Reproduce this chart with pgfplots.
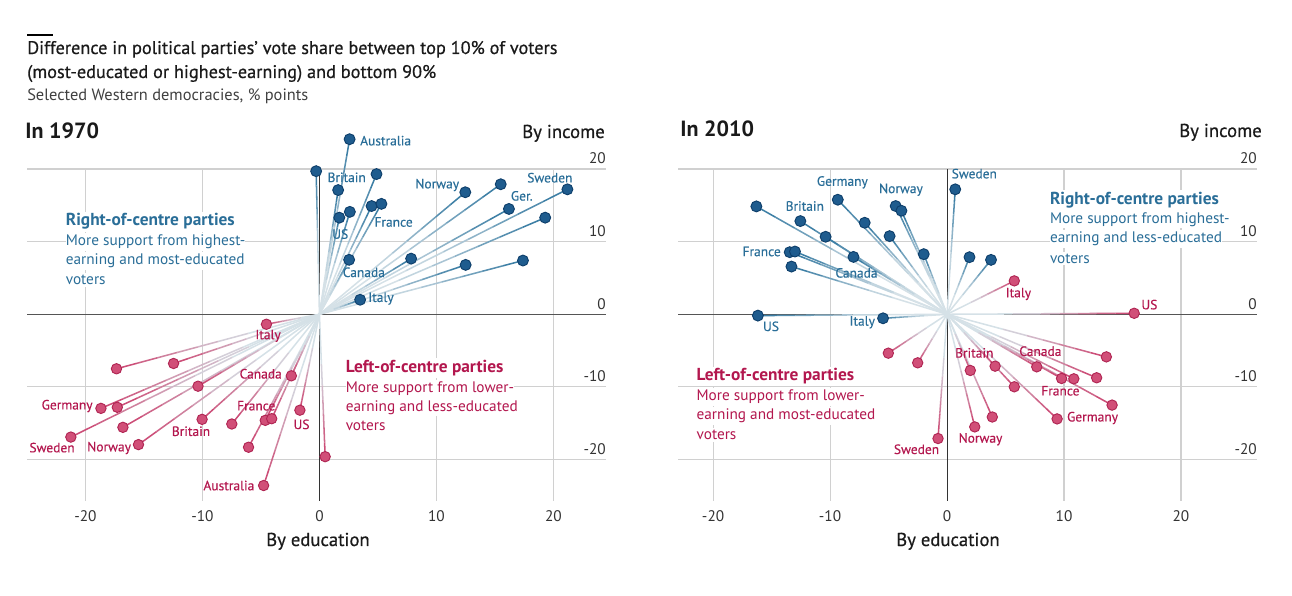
\documentclass[border=0pt]{standalone}
\usepackage{pgfplots}
\pgfplotsset{compat=1.18}
\usepackage{pgfplotstable}
\usepackage{fontspec}
\setmainfont{PT Sans}
\newfontfamily\medfont{PT Sans}[FakeBold=0.6]
\newfontfamily\semifont{PT Sans}[FakeBold=0.3]

\definecolor{bl}{HTML}{1F5C8E}
\definecolor{blray}{HTML}{377BA2}
\definecolor{bledge}{HTML}{0E3F6B}
\definecolor{bltext}{HTML}{2A6E98}
\definecolor{rd}{HTML}{D14F78}
\definecolor{rdray}{HTML}{CC4873}
\definecolor{rdedge}{HTML}{B02553}
\definecolor{rdtext}{HTML}{B3174E}
\definecolor{rayl}{HTML}{D5E1E7}
\definecolor{gridc}{HTML}{D0D0D0}
\definecolor{zeroc}{HTML}{555555}
\definecolor{ticktext}{HTML}{333333}
\definecolor{titletext}{HTML}{1A1A1A}

\pgfplotstableread{
x y
2.58 24.1
-0.28 19.7
4.88 19.3
1.6 17.1
12.47 16.8
15.5 17.9
16.2 14.5
21.2 17.2
19.3 13.3
4.46 14.9
5.3 15.2
2.6 14.1
1.7 13.3
2.54 7.5
7.84 7.66
12.5 6.8
17.4 7.4
3.48 2.0
}\blA

\pgfplotstableread{
x y
-4.53 -1.37
-17.35 -7.5
-12.47 -6.77
-2.4 -8.47
-10.38 -9.9
-18.68 -12.95
-17.28 -12.8
-16.8 -15.56
-21.25 -16.9
-15.47 -17.94
-10.03 -14.46
-7.49 -15.1
-4.63 -14.6
-4.08 -14.37
-1.67 -13.2
-6.06 -18.3
0.49 -19.6
-4.77 -23.57
}\rdA

\pgfplotstableread{
x y
0.7 17.2
-16.3 14.85
-12.54 12.83
-9.34 15.77
-4.39 14.9
-3.9 14.25
-7.04 12.6
-10.38 10.67
-4.91 10.76
-13.45 8.55
-13.0 8.64
-8.0 7.9
-1.99 8.28
-13.3 6.57
1.92 7.86
3.76 7.49
-16.17 -0.18
-5.47 -0.55
}\blB

\pgfplotstableread{
x y
5.75 4.6
16.0 0.14
-5.02 -5.35
-2.51 -6.68
1.99 -7.73
4.11 -7.14
5.75 -9.98
7.67 -7.23
9.79 -8.83
10.84 -8.88
12.79 -8.74
13.62 -5.86
14.11 -12.5
9.41 -14.4
3.87 -14.14
2.37 -15.5
-0.77 -17.1
}\rdB

% one piece of every ray: from f0 to f1 of the way to the point
\newcommand\seg[5]{%
\addplot[forget plot, draw=#5!#3!rayl, line width=1.15pt,
  quiver={u={(#2-#1)*\thisrow{x}}, v={(#2-#1)*\thisrow{y}}}]
  table[x expr={#1*\thisrow{x}}, y expr={#1*\thisrow{y}}] {#4};}
\newcommand\allrays[2]{%
\seg{0}{0.35}{0}{#1}{blray}\seg{0}{0.35}{0}{#2}{rdray}%
\seg{0.35}{0.5}{12}{#1}{blray}\seg{0.35}{0.5}{12}{#2}{rdray}%
\seg{0.5}{0.6}{28}{#1}{blray}\seg{0.5}{0.6}{28}{#2}{rdray}%
\seg{0.6}{0.7}{45}{#1}{blray}\seg{0.6}{0.7}{45}{#2}{rdray}%
\seg{0.7}{0.8}{63}{#1}{blray}\seg{0.7}{0.8}{63}{#2}{rdray}%
\seg{0.8}{0.9}{81}{#1}{blray}\seg{0.8}{0.9}{81}{#2}{rdray}%
\seg{0.9}{1}{96}{#1}{blray}\seg{0.9}{1}{96}{#2}{rdray}%
\addplot[only marks, mark=*, mark size=4.1pt, mark options={fill=bl, draw=bledge, line width=0.7pt}] table {#1};
\addplot[only marks, mark=*, mark size=3.9pt, mark options={fill=rd, draw=rdedge, line width=0.7pt}] table {#2};}

\newcommand\gridlines[2]{% xmin xmax
\pgfplotsinvokeforeach{-20,-10,10,20}{\draw[gridc, line width=0.8pt] (axis cs:#1,##1) -- (axis cs:#2,##1);
 \draw[gridc, line width=0.8pt] (axis cs:##1,-25.7) -- (axis cs:##1,20);}
\draw[zeroc, line width=1.1pt] (axis cs:#1,0) -- (axis cs:#2,0);
\draw[black!80, line width=0.6pt] (axis cs:0,-25.7) -- (axis cs:0,20);}

\tikzset{
 ctyB/.style={text=bltext, font=\semifont\fontsize{10.1}{11}\selectfont, inner sep=1pt},
 ctyR/.style={text=rdtext, font=\semifont\fontsize{10.1}{11}\selectfont, inner sep=1pt},
 annB/.style={text=bltext, font=\fontsize{11.45}{13}\selectfont, anchor=west, fill=white, inner xsep=0pt, inner ysep=1.5pt},
 annR/.style={text=rdtext, font=\fontsize{11.45}{13}\selectfont, anchor=west, fill=white, inner xsep=0pt, inner ysep=1.5pt},
 annBt/.style={annB, font=\fontsize{13}{14}\selectfont\bfseries},
 annRt/.style={annR, font=\fontsize{13}{14}\selectfont\bfseries},
}

\pgfplotsset{panel/.style={
  scale only axis, width=434.25pt, height=249pt,
  ymin=-25.7, ymax=20, clip=false, anchor=south west,
  axis line style={draw=none}, tick style={draw=none},
  xtick={-20,-10,0,10,20}, ytick={-20,-10,0,10,20},
  yticklabel pos=right,
  /pgf/number format/assume math mode=true,
  ticklabel style={font=\fontsize{11.5}{13}\selectfont, text=ticktext},
  yticklabel style={anchor=south east, inner sep=0pt, yshift=3.5pt},
  xticklabel style={yshift=-4pt},
}}

\begin{document}
\begin{tikzpicture}
\path[use as bounding box] (0,0) rectangle (969pt,447pt);

\begin{scope}[x=0.75pt, y=-0.75pt, yshift=447pt]
\draw[black, line width=0.9pt] (27,35) -- (53,35);
\node[anchor=base west, inner sep=0pt, text=titletext, font=\medfont\fontsize{13.7}{15}\selectfont] at (27,54) {Difference in political parties’ vote share between top 10\% of voters};
\node[anchor=base west, inner sep=0pt, text=titletext, font=\medfont\fontsize{13.7}{15}\selectfont] at (27,78) {(most-educated or highest-earning) and bottom 90\%};
\node[anchor=base west, inner sep=0pt, text=black!75, font=\fontsize{12.3}{13}\selectfont] at (27,101) {Selected Western democracies, \% points};
\node[anchor=base west, inner sep=0pt, text=titletext, font=\fontsize{16.5}{18}\selectfont\bfseries] at (25,139) {In 1970};
\node[anchor=base east, inner sep=0pt, text=titletext, font=\medfont\fontsize{14}{15}\selectfont] at (605,138) {By income};
\node[anchor=base, inner sep=0pt, text=titletext, font=\medfont\fontsize{14}{15}\selectfont] at (318,546) {By education};
\node[anchor=base west, inner sep=0pt, text=titletext, font=\fontsize{16.5}{18}\selectfont\bfseries] at (680,137) {In 2010};
\node[anchor=base east, inner sep=0pt, text=titletext, font=\medfont\fontsize{14}{15}\selectfont] at (1262,137) {By income};
\node[anchor=base, inner sep=0pt, text=titletext, font=\medfont\fontsize{14}{15}\selectfont] at (948,546) {By education};
\end{scope}

% ---------- 1970 ----------
\begin{axis}[panel, at={(20.25pt,71.25pt)}, xmin=-25, xmax=24.5]
\gridlines{-25}{24.5}
\node[annBt] at (axis cs:-21.7,12.75) {Right-of-centre parties};
\node[annB] at (axis cs:-21.7,10.0) {More support from highest-};
\node[annB] at (axis cs:-21.7,7.34) {earning and most-educated};
\node[annB] at (axis cs:-21.7,4.72) {voters};
\node[annRt] at (axis cs:2.23,-7.41) {Left-of-centre parties};
\node[annR] at (axis cs:2.23,-10.3) {More support from lower-};
\node[annR] at (axis cs:2.23,-12.8) {earning and less-educated};
\node[annR] at (axis cs:2.23,-15.4) {voters};
\allrays{\blA}{\rdA}
\node[ctyB, anchor=west] at (axis cs:3.35,23.9) {Australia};
\node[ctyB] at (axis cs:2.33,18.85) {Britain};
\node[ctyB] at (axis cs:10.07,17.8) {Norway};
\node[ctyB] at (axis cs:19.7,18.8) {Sweden};
\node[ctyB] at (axis cs:17.3,16.3) {Ger.};
\node[ctyB] at (axis cs:6.34,12.7) {France};
\node[ctyB] at (axis cs:1.78,11.05) {US};
\node[ctyB] at (axis cs:3.8,5.78) {Canada};
\node[ctyB, anchor=west] at (axis cs:4.04,2.16) {Italy};
\node[ctyR] at (axis cs:-4.39,-2.97) {Italy};
\node[ctyR] at (axis cs:-5.02,-8.19) {Canada};
\node[ctyR] at (axis cs:-21.57,-12.63) {Germany};
\node[ctyR] at (axis cs:-5.4,-12.59) {France};
\node[ctyR] at (axis cs:-1.53,-15.15) {US};
\node[ctyR] at (axis cs:-10.98,-16.1) {Britain};
\node[ctyR] at (axis cs:-22.86,-18.35) {Sweden};
\node[ctyR] at (axis cs:-17.98,-18.4) {Norway};
\node[ctyR] at (axis cs:-7.74,-23.57) {Australia};
\end{axis}

% ---------- 2010 ----------
\begin{axis}[panel, at={(508.5pt,71.25pt)}, xmin=-23, xmax=26.5]
\gridlines{-23}{26.5}
\node[annBt] at (axis cs:8.78,15.68) {Right-of-centre parties};
\node[annB] at (axis cs:8.78,13.06) {More support from highest-};
\node[annB] at (axis cs:8.78,10.34) {earning and less-educated};
\node[annB] at (axis cs:8.78,7.68) {voters};
\node[annRt] at (axis cs:-21.43,-8.56) {Left-of-centre parties};
\node[annR] at (axis cs:-21.43,-11.4) {More support from lower-};
\node[annR] at (axis cs:-21.43,-13.96) {earning and most-educated};
\node[annR] at (axis cs:-21.43,-16.66) {voters};
\allrays{\blB}{\rdB}
\node[ctyB] at (axis cs:2.33,19.36) {Sweden};
\node[ctyB] at (axis cs:-8.95,18.16) {Germany};
\node[ctyB] at (axis cs:-3.94,17.15) {Norway};
\node[ctyB] at (axis cs:-12.16,14.9) {Britain};
\node[ctyB] at (axis cs:-15.85,8.64) {France};
\node[ctyB] at (axis cs:-7.74,5.7) {Canada};
\node[ctyB] at (axis cs:-7.25,-1.1) {Italy};
\node[ctyB] at (axis cs:-15.05,-1.66) {US};
\node[ctyR] at (axis cs:6.1,2.8) {Italy};
\node[ctyR] at (axis cs:17.3,1.33) {US};
\node[ctyR] at (axis cs:2.33,-5.31) {Britain};
\node[ctyR] at (axis cs:7.98,-5.08) {Canada};
\node[ctyR] at (axis cs:9.69,-10.53) {France};
\node[ctyR] at (axis cs:12.44,-14.28) {Germany};
\node[ctyR] at (axis cs:2.86,-17.2) {Norway};
\node[ctyR] at (axis cs:-2.61,-18.58) {Sweden};
\end{axis}
\end{tikzpicture}
\end{document}
